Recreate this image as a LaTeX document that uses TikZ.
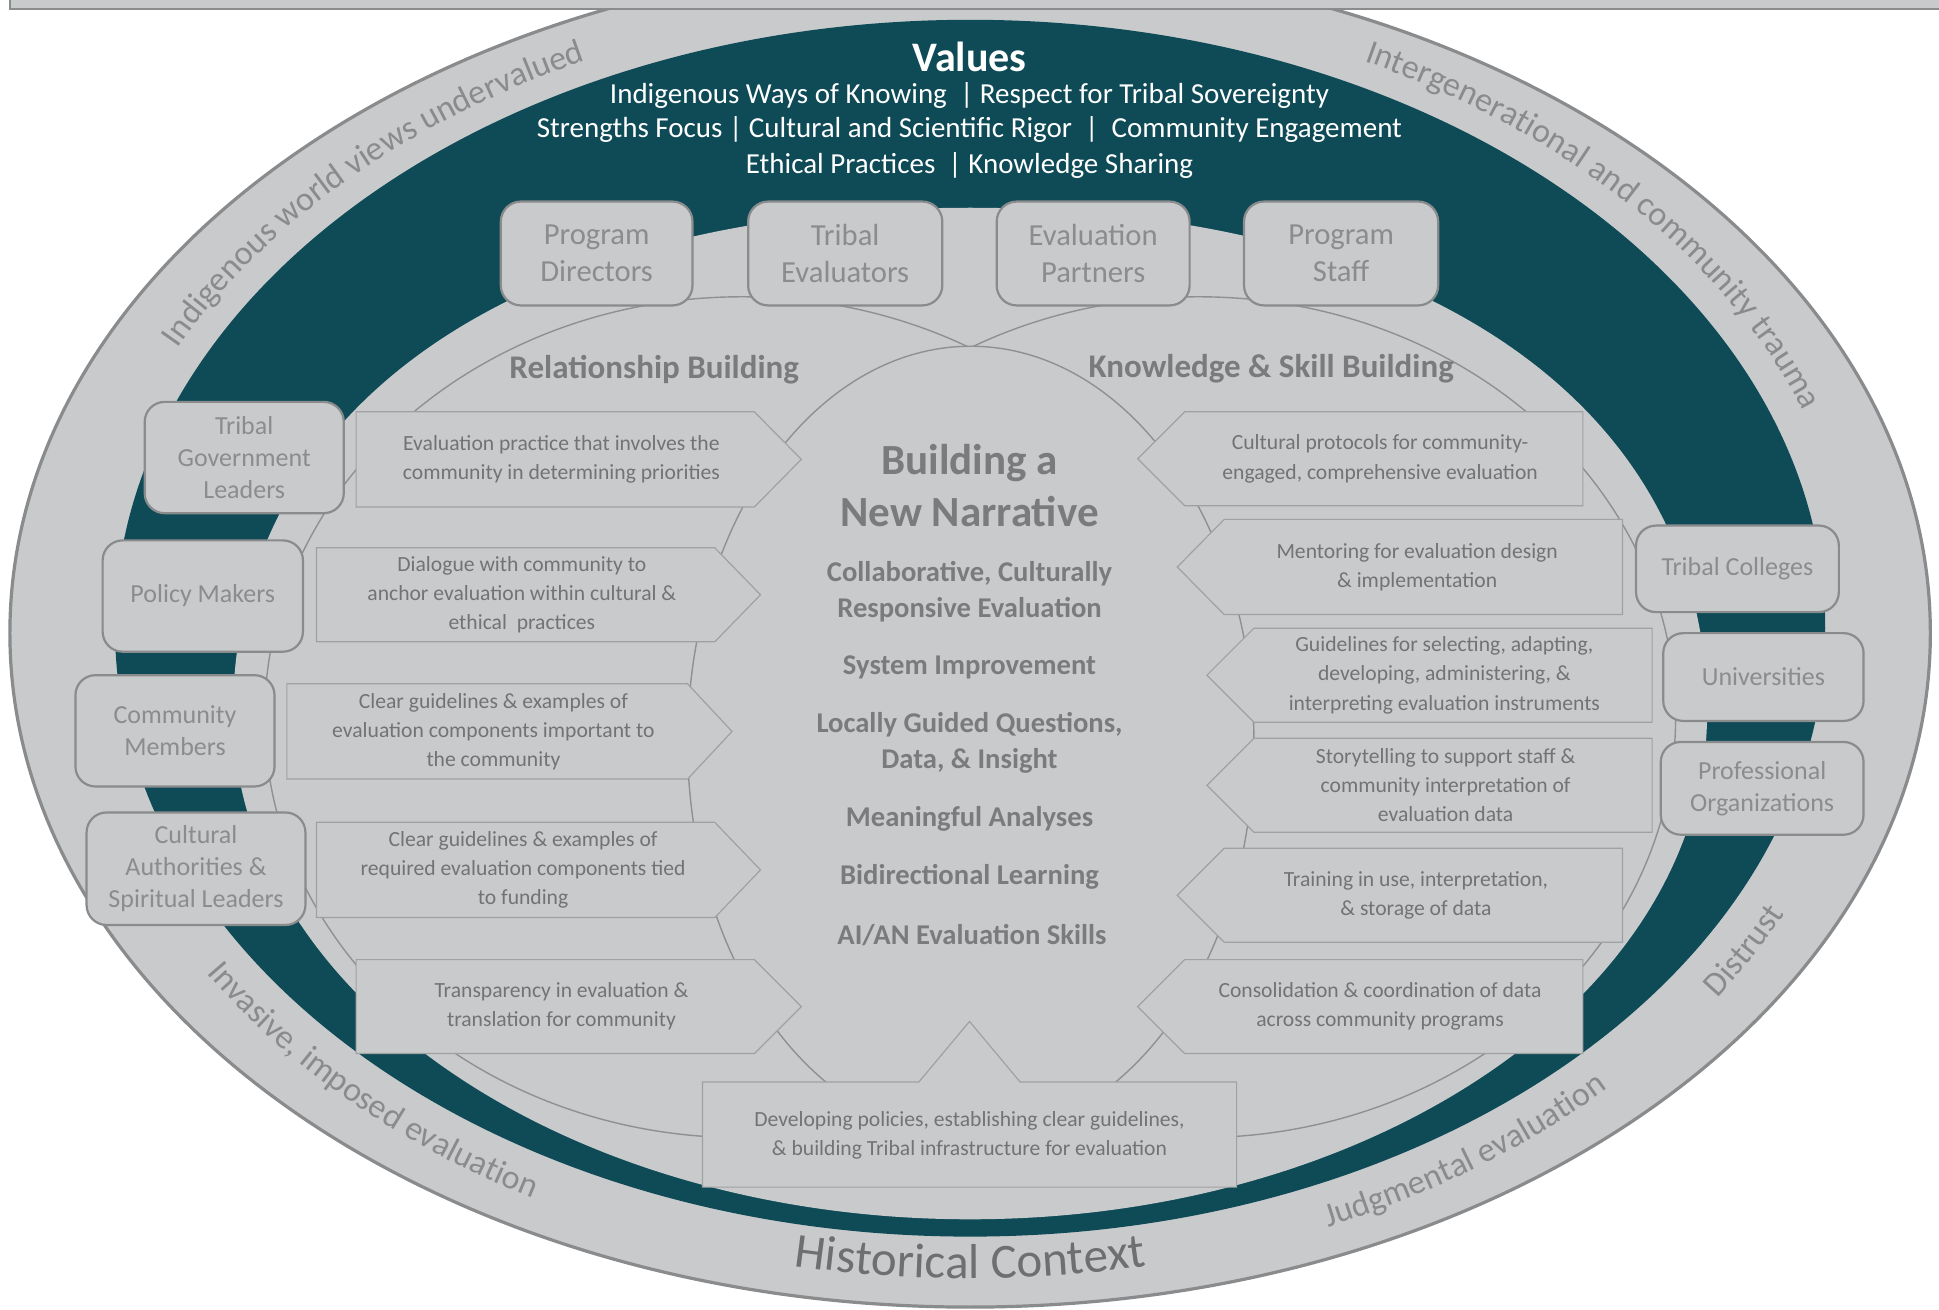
\documentclass[tikz,border=0pt]{standalone}
\usepackage{fontspec}
\setmainfont{Carlito}
\usetikzlibrary{decorations.text}
\definecolor{tealband}{HTML}{0E4B57}
\definecolor{ltgray}{HTML}{C9CACC}
\definecolor{rimgray}{HTML}{8A8B8D}
\definecolor{boxline}{HTML}{8A8B8D}
\definecolor{thinline}{HTML}{8F9092}
\definecolor{arrline}{HTML}{A0A1A3}
\definecolor{boxtext}{HTML}{8B8C8E}
\definecolor{arrtext}{HTML}{727375}
\definecolor{ctrtext}{HTML}{7A7B7D}
\definecolor{ringtext}{HTML}{8A8B8D}
\definecolor{histtext}{HTML}{6E6F71}
\newcommand{\fsz}[2]{\fontsize{#1}{#2}\selectfont}
\newcommand{\ptright}[5]{\draw[arrshape] (#1,#4) -- (#2,#4) -- (#3,{(#4+#5)/2}) -- (#2,#5) -- (#1,#5) -- cycle;}
\newcommand{\ptleft}[5]{\draw[arrshape] (#2,#4) -- (#1,#4) -- (#3,{(#4+#5)/2}) -- (#1,#5) -- (#2,#5) -- cycle;}
\begin{document}
\begin{tikzpicture}[x=0.618pt,y=-0.618pt,
  sbox/.style 2 args={draw=boxline, line width=1.1pt, fill=ltgray, rounded corners=10pt,
     minimum width=#1*0.618pt, minimum height=#2*0.618pt, inner sep=0pt, align=center, text=boxtext},
  topbox/.style 2 args={sbox={#1}{#2}, font=\fsz{15.3}{18.5}},
  sidebox/.style 2 args={sbox={#1}{#2}, font=\fsz{13}{16}},
  arrshape/.style={fill=ltgray, draw=arrline, line width=0.6pt},
  thinring/.style={draw=thinline, line width=0.7pt},
  arrtxt/.style={align=center, text=arrtext, font=\fsz{10.8}{14.6}, inner sep=0pt},
  ctrtxt/.style={align=center, text=ctrtext, font=\bfseries\fsz{14.3}{18}, inner sep=0pt},
  valtxt/.style={text=white, font=\fsz{14.5}{17.6}, inner sep=0pt},
  headtxt/.style={text=ctrtext, font=\bfseries\fsz{16.5}{20}, inner sep=0pt},
]
\useasboundingbox (0,0) rectangle (1568,1059);
\clip (0,0) rectangle (1568,1059);
\fill[white] (0,0) rectangle (1568,1059);

% outer ring (Historical Context)
\draw[fill=ltgray, draw=rimgray, line width=1.6pt] (784.5,512) ellipse [x radius=776.5, y radius=545];
% top bar
\fill[ltgray] (8,-2) rectangle (1570,7);
\draw[rimgray, line width=1pt] (8,-2) -- (8,7) -- (1570,7);

% teal values band
\fill[tealband] (784.5,508) ellipse [x radius=691.5, y radius=492];
% inner light region
\fill[ltgray] (188.5,576) .. controls (188.5,327.1) and (420.9,168) .. (784.5,168)
  .. controls (1148.1,168) and (1380.5,327.1) .. (1380.5,576)
  .. controls (1380.5,802.4) and (1113.7,986) .. (784.5,986)
  .. controls (455.3,986) and (188.5,802.4) .. (188.5,576) -- cycle;

% two overlapping circles
\draw[thinring] (600,580) ellipse [x radius=386, y radius=340];
\draw[thinring] (969,580) ellipse [x radius=386, y radius=340];
% central region
\draw[fill=ltgray, draw=thinline, line width=0.7pt] (785,600) ellipse [x radius=229, y radius=320];

% left pointers
\ptright{288}{610}{648}{333}{410}
\ptright{256}{578}{615}{443}{519}
\ptright{232}{556}{592}{553}{630}
\ptright{256}{578}{615}{665}{742}
\ptright{288}{610}{648}{776}{852}
% right pointers
\ptleft{958}{1280}{920}{333}{409}
\ptleft{990}{1312}{952}{420}{497}
\ptleft{1014}{1336}{976}{508}{584}
\ptleft{1014}{1336}{976}{597}{673}
\ptleft{990}{1312}{952}{686}{762}
\ptleft{958}{1280}{920}{776}{852}
% bottom callout
\draw[arrshape] (568,875) -- (743,875) -- (784,826) -- (825,875) -- (1000,875) -- (1000,960) -- (568,960) -- cycle;

% stakeholder boxes
\node[topbox={155}{84}] (pd) at (482.5,205) {Program\\Directors};
\node[topbox={157}{84}] (te) at (683.5,205) {Tribal\\Evaluators};
\node[topbox={156}{84}] (ep) at (884,205) {Evaluation\\Partners};
\node[topbox={157}{84}] (ps) at (1084.5,205) {Program\\Staff};
\node[sidebox={161}{90}] (tgl) at (197.5,370) {Tribal\\Government\\Leaders};
\node[sidebox={162}{90}] (pm) at (164,482) {Policy Makers};
\node[sidebox={161}{90}] (cm) at (141.5,591) {Community\\Members};
\node[sidebox={177}{91}] (ca) at (158.5,702.5) {Cultural\\Authorities \&\\Spiritual Leaders};
\node[sidebox={164}{70}] (tc) at (1405,460) {Tribal Colleges};
\node[sidebox={162}{71}] (un) at (1426,547.5) {Universities};
\node[sidebox={164}{75}] (po) at (1425,637.5) {Professional\\Organizations};

% values
\node[text=white, font=\bfseries\fsz{21}{25}, inner sep=0pt] (values) at (784,46) {Values};
\node[valtxt] (v1) at (784,77) {Indigenous Ways of Knowing \ | Respect for Tribal Sovereignty};
\node[valtxt] (v2) at (784,105) {Strengths Focus | Cultural and Scientific Rigor \ | \ Community Engagement};
\node[valtxt] (v3) at (784,134) {Ethical Practices \ | Knowledge Sharing};

% headings
\node[headtxt] (rb) at (529,299) {Relationship Building};
\node[headtxt] (ksb) at (1028,298) {Knowledge \& Skill Building};

% center
\node[align=center, text=ctrtext, font=\bfseries\fsz{21.5}{26}, inner sep=0pt] (bnn) at (784,393) {Building a\\New Narrative};
\node[ctrtxt] (c1) at (784,478.5) {Collaborative, Culturally\\Responsive Evaluation};
\node[ctrtxt] (c2) at (784,540) {System Improvement};
\node[ctrtxt] (c3) at (784,601) {Locally Guided Questions,\\Data, \& Insight};
\node[ctrtxt] (c4) at (784,662) {Meaningful Analyses};
\node[ctrtxt] (c5) at (784,709) {Bidirectional Learning};
\node[ctrtxt] (c6) at (786,756) {AI/AN Evaluation Skills};

% left pointer texts
\node[arrtxt] (l1) at (454,371.5) {Evaluation practice that involves the\\community in determining priorities};
\node[arrtxt] (l2) at (422,481) {Dialogue with community to\\anchor evaluation within cultural \&\\ethical \ practices};
\node[arrtxt] (l3) at (399,591.5) {Clear guidelines \& examples of\\evaluation components important to\\the community};
\node[arrtxt] (l4) at (423,703.5) {Clear guidelines \& examples of\\required evaluation components tied\\to funding};
\node[arrtxt] (l5) at (454,814) {Transparency in evaluation \&\\translation for community};
% right pointer texts
\node[arrtxt] (r1) at (1116,371) {Cultural protocols for community-\\engaged, comprehensive evaluation};
\node[arrtxt] (r2) at (1146,458.5) {Mentoring for evaluation design\\\& implementation};
\node[arrtxt] (r3) at (1168,546) {Guidelines for selecting, adapting,\\developing, administering, \&\\interpreting evaluation instruments};
\node[arrtxt] (r4) at (1169,635) {Storytelling to support staff \&\\community interpretation of\\evaluation data};
\node[arrtxt] (r5) at (1145,724) {Training in use, interpretation,\\\& storage of data};
\node[arrtxt] (r6) at (1116,814) {Consolidation \& coordination of data\\across community programs};
% callout text
\node[arrtxt] (dp) at (784,918) {Developing policies, establishing clear guidelines,\\\& building Tribal infrastructure for evaluation};

% ring texts
\path[decorate, decoration={text along path, text align=center, text color=ringtext,
  text={|\fsz{17}{20}|Indigenous world views undervalued}}]
  (784.5,510) ++(194:716 and 512) arc[start angle=194, end angle=254, x radius=716, y radius=512];
\path[decorate, decoration={text along path, text align=center, text color=ringtext,
  text={|\fsz{17}{20}|Intergenerational and community trauma}}]
  (784.5,510) ++(287:718 and 514) arc[start angle=287, end angle=352, x radius=718, y radius=514];
\path[decorate, decoration={text along path, text align=center, text color=ringtext,
  text={|\fsz{17}{20}|Invasive, imposed evaluation}}]
  (784.5,510) ++(162:726 and 526) arc[start angle=162, end angle=108, x radius=726, y radius=526];
\path[decorate, decoration={text along path, text align=center, text color=histtext,
  text={|\fsz{24.5}{28}|Historical Context}}]
  (784.5,510) ++(112:725 and 524) arc[start angle=112, end angle=68, x radius=725, y radius=524];
\path[decorate, decoration={text along path, text align=center, text color=ringtext,
  text={|\fsz{17}{20}|Judgmental evaluation}}]
  (784.5,510) ++(75:726 and 526) arc[start angle=75, end angle=35, x radius=726, y radius=526];
\path[decorate, decoration={text along path, text align=center, text color=ringtext,
  text={|\fsz{17}{20}|Distrust}}]
  (784.5,510) ++(41.5:730 and 530) arc[start angle=41.5, end angle=17.5, x radius=730, y radius=530];
\end{tikzpicture}
\end{document}
